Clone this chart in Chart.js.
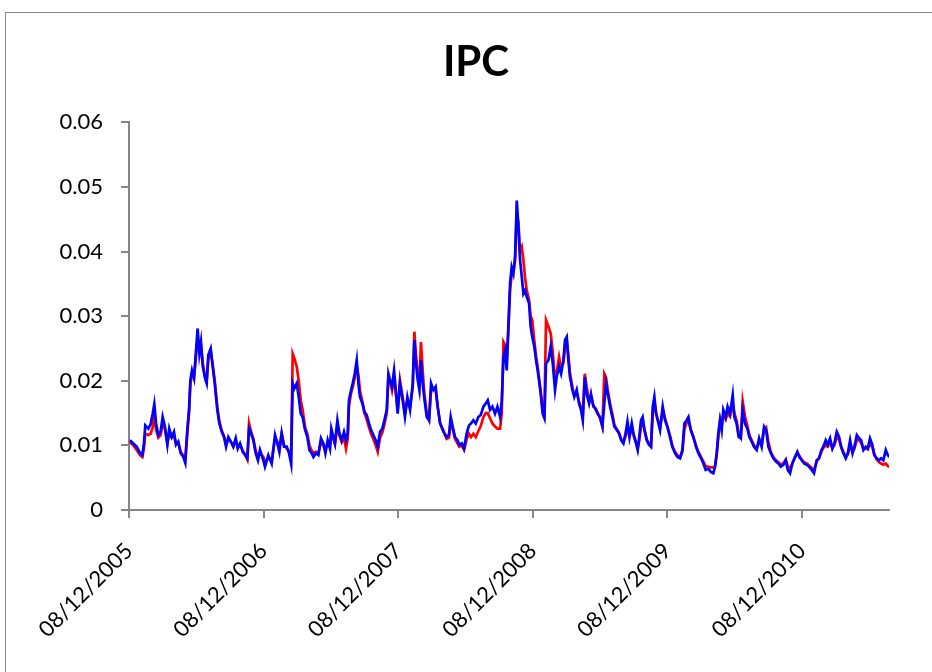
<!DOCTYPE html>
<html><head><meta charset="utf-8">
<script src="https://cdn.jsdelivr.net/npm/chart.js@4.4.1/dist/chart.umd.min.js"></script>
<style>
html,body{margin:0;padding:0;background:#fff;overflow:hidden}
#frame{position:absolute;left:5px;top:12px;width:1000px;height:1000px;border:1px solid #8a8a8a;box-sizing:border-box}
#wrap{position:absolute;left:0;top:0;width:932px;height:672px}
</style></head><body>
<div id="frame"></div>
<div id="wrap"><canvas id="c" width="932" height="672"></canvas></div>
<script>
// time in years since 08/12/2005
const t = [
0.007,0.032,0.057,0.082,0.099,0.111,0.121,0.144,0.161,0.176,
0.188,0.201,0.218,0.235,0.250,0.267,0.285,0.299,0.317,0.334,
0.349,0.366,0.384,0.404,0.418,0.433,0.446,0.456,0.468,0.483,
0.498,0.510,0.523,0.535,0.548,0.565,0.577,0.589,0.607,0.622,
0.637,0.656,0.671,0.689,0.706,0.721,0.738,0.756,0.775,0.793,
0.808,0.825,0.845,0.862,0.879,0.892,0.906,0.924,0.941,0.958,
0.973,
0.998,1.010,1.035,1.060,1.085,1.102,1.117,1.134,1.152,1.172,
1.189,1.204,1.216,1.228,1.246,1.261,1.276,1.290,1.308,1.325,
1.340,1.357,1.370,1.389,1.407,1.426,1.444,1.459,1.476,1.493,
1.503,1.518,1.530,1.548,1.563,1.580,1.597,1.612,1.625,1.634,
1.647,1.662,1.677,1.692,1.704,1.716,1.734,1.749,1.766,1.783,
1.798,1.815,1.833,1.848,1.865,1.882,1.897,1.915,1.927,1.939,
1.954,1.969,1.984,1.996,2.013,
2.033,2.050,2.068,2.088,2.108,2.120,2.132,2.145,2.157,2.169,
2.182,2.194,2.212,2.229,2.244,2.261,2.278,2.293,2.311,2.328,
2.343,2.360,2.377,2.390,2.405,2.422,2.440,2.454,2.472,2.489,
2.509,2.526,2.541,2.558,2.576,2.595,2.613,2.633,2.650,2.665,
2.682,2.700,2.719,2.737,2.757,2.769,2.782,2.794,2.806,2.819,
2.831,2.843,2.856,2.868,2.881,2.893,2.905,2.918,2.930,2.942,
2.955,2.972,2.984,2.996,3.011,3.024,3.036,3.049,3.061,3.073,
3.086,
3.098,3.116,3.133,3.148,3.165,3.177,3.195,3.210,3.227,3.239,
3.252,3.264,3.276,3.294,3.308,3.326,3.343,3.358,3.371,3.386,
3.400,3.418,3.432,3.450,3.467,3.482,3.499,3.517,3.531,3.544,
3.557,3.574,3.591,3.606,3.624,3.641,3.656,3.673,3.691,3.703,
3.718,3.735,3.752,3.767,3.779,3.791,3.804,3.816,3.829,3.846,
3.863,3.878,3.891,3.903,3.915,3.928,3.945,
3.965,3.982,3.999,4.019,4.036,4.056,4.074,4.094,4.111,4.126,
4.143,4.156,4.173,4.193,4.212,4.230,4.250,4.267,4.284,4.304,
4.322,4.341,4.354,4.366,4.378,4.391,4.403,4.415,4.433,4.447,
4.465,4.485,4.497,4.514,4.529,4.545,4.559,4.576,4.594,4.609,
4.626,4.643,4.663,4.681,4.700,4.718,4.733,4.750,4.768,4.787,
4.807,4.824,4.842,4.861,4.879,4.894,4.911,4.928,4.948,4.965,
4.980,4.998,5.015,5.035,5.052,5.072,5.089,5.109,5.126,5.144,
5.158,5.176,5.191,5.208,5.225,5.240,5.258,5.275,5.290,5.307,
5.325,5.340,5.357,5.375,5.389,5.407,5.424,5.439,5.456,5.473,
5.488,5.505,5.522,5.537,5.555,5.572,5.587,5.604,5.622,5.637,
5.649
];
const blue = [
0.0108,0.0103,0.0098,0.0088,0.0085,0.0103,0.0131,0.0126,0.0133,0.0149,
0.0164,0.0134,0.0116,0.0121,0.0144,0.0129,0.0101,0.0126,0.0113,0.0121,
0.0101,0.0106,0.0088,0.0082,0.0073,0.0124,0.0155,0.0201,0.0216,0.0204,
0.0247,0.0281,0.0242,0.0260,0.0222,0.0204,0.0196,0.0240,0.0250,0.0222,
0.0196,0.0155,0.0134,0.0121,0.0113,0.0098,0.0113,0.0106,0.0098,0.0111,
0.0095,0.0103,0.0090,0.0085,0.0080,0.0126,0.0119,0.0108,0.0088,0.0077,
0.0093,
0.0077,0.0067,0.0085,0.0072,0.0116,0.0103,0.0090,0.0119,0.0098,0.0098,
0.0088,0.0072,0.0196,0.0188,0.0196,0.0175,0.0149,0.0144,0.0124,0.0113,
0.0093,0.0088,0.0082,0.0088,0.0085,0.0111,0.0103,0.0088,0.0108,0.0095,
0.0126,0.0113,0.0103,0.0139,0.0119,0.0108,0.0121,0.0108,0.0119,0.0170,
0.0183,0.0196,0.0211,0.0232,0.0196,0.0175,0.0165,0.0152,0.0147,0.0134,
0.0124,0.0116,0.0108,0.0098,0.0121,0.0126,0.0139,0.0155,0.0211,0.0201,
0.0191,0.0216,0.0180,0.0149,0.0196,
0.0170,0.0144,0.0175,0.0155,0.0196,0.0263,0.0227,0.0201,0.0186,0.0232,
0.0196,0.0173,0.0144,0.0139,0.0196,0.0186,0.0191,0.0160,0.0134,0.0126,
0.0119,0.0113,0.0116,0.0144,0.0129,0.0113,0.0108,0.0101,0.0103,0.0095,
0.0119,0.0131,0.0134,0.0139,0.0134,0.0144,0.0147,0.0160,0.0165,0.0170,
0.0155,0.0160,0.0149,0.0160,0.0144,0.0168,0.0237,0.0247,0.0216,0.0289,
0.0351,0.0376,0.0366,0.0392,0.0479,0.0438,0.0387,0.0361,0.0335,0.0340,
0.0330,0.0320,0.0284,0.0268,0.0253,0.0232,0.0216,0.0196,0.0175,0.0149,
0.0142,
0.0227,0.0232,0.0253,0.0227,0.0186,0.0206,0.0222,0.0211,0.0232,0.0263,
0.0268,0.0232,0.0206,0.0186,0.0175,0.0186,0.0165,0.0155,0.0139,0.0206,
0.0180,0.0165,0.0180,0.0160,0.0157,0.0149,0.0144,0.0129,0.0165,0.0196,
0.0180,0.0160,0.0144,0.0129,0.0124,0.0119,0.0108,0.0103,0.0121,0.0137,
0.0113,0.0134,0.0113,0.0103,0.0093,0.0113,0.0139,0.0144,0.0124,0.0108,
0.0101,0.0098,0.0160,0.0175,0.0149,0.0139,0.0124,
0.0160,0.0139,0.0129,0.0113,0.0098,0.0088,0.0082,0.0080,0.0093,0.0134,
0.0139,0.0144,0.0124,0.0113,0.0098,0.0088,0.0080,0.0072,0.0062,0.0064,
0.0059,0.0057,0.0067,0.0088,0.0119,0.0139,0.0124,0.0155,0.0144,0.0160,
0.0149,0.0178,0.0144,0.0134,0.0113,0.0111,0.0155,0.0134,0.0126,0.0113,
0.0106,0.0098,0.0093,0.0111,0.0098,0.0129,0.0124,0.0098,0.0088,0.0080,
0.0075,0.0072,0.0067,0.0070,0.0077,0.0062,0.0057,0.0072,0.0082,0.0090,
0.0082,0.0077,0.0072,0.0070,0.0067,0.0062,0.0057,0.0077,0.0080,0.0093,
0.0098,0.0108,0.0101,0.0111,0.0095,0.0103,0.0121,0.0113,0.0098,0.0088,
0.0080,0.0088,0.0108,0.0088,0.0098,0.0116,0.0111,0.0108,0.0093,0.0098,
0.0095,0.0111,0.0101,0.0085,0.0080,0.0077,0.0080,0.0077,0.0093,0.0085,
0.0082
];
const red = [
0.0105,0.0100,0.0093,0.0085,0.0082,0.0095,0.0118,0.0116,0.0118,0.0128,
0.0150,0.0124,0.0112,0.0116,0.0135,0.0125,0.0103,0.0120,0.0112,0.0115,
0.0103,0.0104,0.0090,0.0084,0.0078,0.0118,0.0150,0.0195,0.0210,0.0205,
0.0238,0.0265,0.0250,0.0252,0.0228,0.0206,0.0200,0.0232,0.0245,0.0225,
0.0200,0.0160,0.0138,0.0123,0.0114,0.0102,0.0110,0.0106,0.0098,0.0108,
0.0097,0.0101,0.0092,0.0086,0.0078,0.0134,0.0122,0.0110,0.0092,0.0082,
0.0088,
0.0082,0.0075,0.0080,0.0076,0.0112,0.0106,0.0095,0.0118,0.0100,0.0095,
0.0090,0.0078,0.0242,0.0235,0.0222,0.0200,0.0170,0.0155,0.0128,0.0118,
0.0100,0.0092,0.0088,0.0090,0.0088,0.0105,0.0100,0.0092,0.0104,0.0097,
0.0118,0.0110,0.0102,0.0130,0.0115,0.0105,0.0112,0.0095,0.0110,0.0160,
0.0178,0.0190,0.0205,0.0222,0.0210,0.0185,0.0168,0.0150,0.0140,0.0128,
0.0118,0.0110,0.0100,0.0090,0.0112,0.0120,0.0132,0.0150,0.0205,0.0200,
0.0185,0.0205,0.0178,0.0155,0.0201,
0.0175,0.0150,0.0170,0.0160,0.0190,0.0276,0.0240,0.0210,0.0195,0.0260,
0.0215,0.0180,0.0150,0.0140,0.0185,0.0188,0.0185,0.0160,0.0135,0.0125,
0.0118,0.0110,0.0112,0.0135,0.0125,0.0110,0.0103,0.0098,0.0100,0.0093,
0.0110,0.0118,0.0113,0.0118,0.0113,0.0122,0.0130,0.0144,0.0150,0.0150,
0.0142,0.0134,0.0129,0.0126,0.0126,0.0150,0.0260,0.0255,0.0230,0.0280,
0.0340,0.0365,0.0370,0.0385,0.0460,0.0445,0.0400,0.0407,0.0387,0.0360,
0.0340,0.0325,0.0300,0.0294,0.0262,0.0238,0.0222,0.0200,0.0180,0.0155,
0.0148,
0.0294,0.0284,0.0273,0.0245,0.0200,0.0212,0.0237,0.0220,0.0228,0.0250,
0.0262,0.0240,0.0212,0.0190,0.0178,0.0182,0.0168,0.0158,0.0145,0.0211,
0.0190,0.0170,0.0175,0.0162,0.0155,0.0150,0.0142,0.0130,0.0211,0.0205,
0.0185,0.0165,0.0148,0.0132,0.0125,0.0118,0.0110,0.0105,0.0115,0.0128,
0.0115,0.0125,0.0115,0.0105,0.0095,0.0108,0.0130,0.0138,0.0125,0.0110,
0.0102,0.0098,0.0150,0.0168,0.0152,0.0140,0.0126,
0.0155,0.0142,0.0130,0.0115,0.0100,0.0090,0.0085,0.0082,0.0090,0.0125,
0.0135,0.0138,0.0125,0.0112,0.0100,0.0090,0.0082,0.0075,0.0068,0.0067,
0.0066,0.0066,0.0068,0.0085,0.0112,0.0140,0.0130,0.0148,0.0140,0.0150,
0.0145,0.0165,0.0150,0.0138,0.0118,0.0112,0.0168,0.0145,0.0130,0.0116,
0.0108,0.0100,0.0096,0.0105,0.0100,0.0125,0.0128,0.0105,0.0090,0.0082,
0.0077,0.0074,0.0070,0.0072,0.0078,0.0068,0.0064,0.0072,0.0082,0.0088,
0.0084,0.0078,0.0074,0.0072,0.0069,0.0065,0.0062,0.0075,0.0080,0.0090,
0.0096,0.0100,0.0098,0.0104,0.0096,0.0100,0.0112,0.0110,0.0098,0.0090,
0.0083,0.0086,0.0100,0.0090,0.0095,0.0108,0.0108,0.0104,0.0094,0.0096,
0.0094,0.0102,0.0098,0.0086,0.0078,0.0074,0.0072,0.0070,0.0072,0.0068,
0.0067
];
const xTickLabels = ['08/12/2005','08/12/2006','08/12/2007','08/12/2008','08/12/2009','08/12/2010'];
const yTickLabels = ['0','0.01','0.02','0.03','0.04','0.05','0.06'];

if (t.length !== blue.length || t.length !== red.length) {
  throw new Error('length mismatch ' + t.length + ' ' + blue.length + ' ' + red.length);
}

const axisColor = '#868686';
const tickFont = {family: 'Lato', size: 22};

// centre the title over the whole chart frame rather than the padded box
const titleCenter = {
  id: 'titleCenter',
  afterLayout(chart) {
    const tb = chart.titleBlock;
    if (tb) { tb.left = 20; tb.right = 932; }
  }
};

new Chart(document.getElementById('c'), {
  type: 'line',
  data: {
    datasets: [
      {label: 'Blue', data: t.map((x, i) => ({x: x, y: blue[i]})), borderColor: '#0000ff',
       borderWidth: 2.7, pointRadius: 0, tension: 0, fill: false, order: 0},
      {label: 'Red', data: t.map((x, i) => ({x: x, y: red[i]})), borderColor: '#ff0000',
       borderWidth: 2.7, pointRadius: 0, tension: 0, fill: false, order: 1}
    ]
  },
  options: {
    responsive: false,
    animation: false,
    layout: {padding: {left: 0, right: 43, top: 37, bottom: 0}},
    plugins: {
      legend: {display: false},
      tooltip: {enabled: false},
      title: {display: true, text: 'IPC', color: '#000',
        font: {family: 'Lato', size: 42, weight: 'bold'},
        padding: {top: 0, bottom: 35}}
    },
    scales: {
      x: {
        type: 'linear', min: 0, max: 5.646,
        afterBuildTicks: s => { s.ticks = xTickLabels.map((_, i) => ({value: i})); },
        afterFit: s => { s.height = 162; },
        ticks: {autoSkip: false, maxRotation: 45, minRotation: 45, padding: 20,
          color: '#000', font: tickFont, callback: (v, i) => xTickLabels[i]},
        grid: {drawOnChartArea: false, drawTicks: true, tickLength: 8, color: axisColor, lineWidth: 2},
        border: {display: true, color: axisColor, width: 2}
      },
      y: {
        min: 0, max: 0.06,
        afterBuildTicks: s => { s.ticks = yTickLabels.map(v => ({value: parseFloat(v)})); },
        afterFit: s => { s.width = 129; },
        ticks: {padding: 18, color: '#000', font: tickFont, callback: (v, i) => yTickLabels[i]},
        grid: {drawOnChartArea: false, drawTicks: true, tickLength: 8, color: axisColor, lineWidth: 2},
        border: {display: true, color: axisColor, width: 2}
      }
    }
  },
  plugins: [titleCenter]
});
</script>
</body></html>
